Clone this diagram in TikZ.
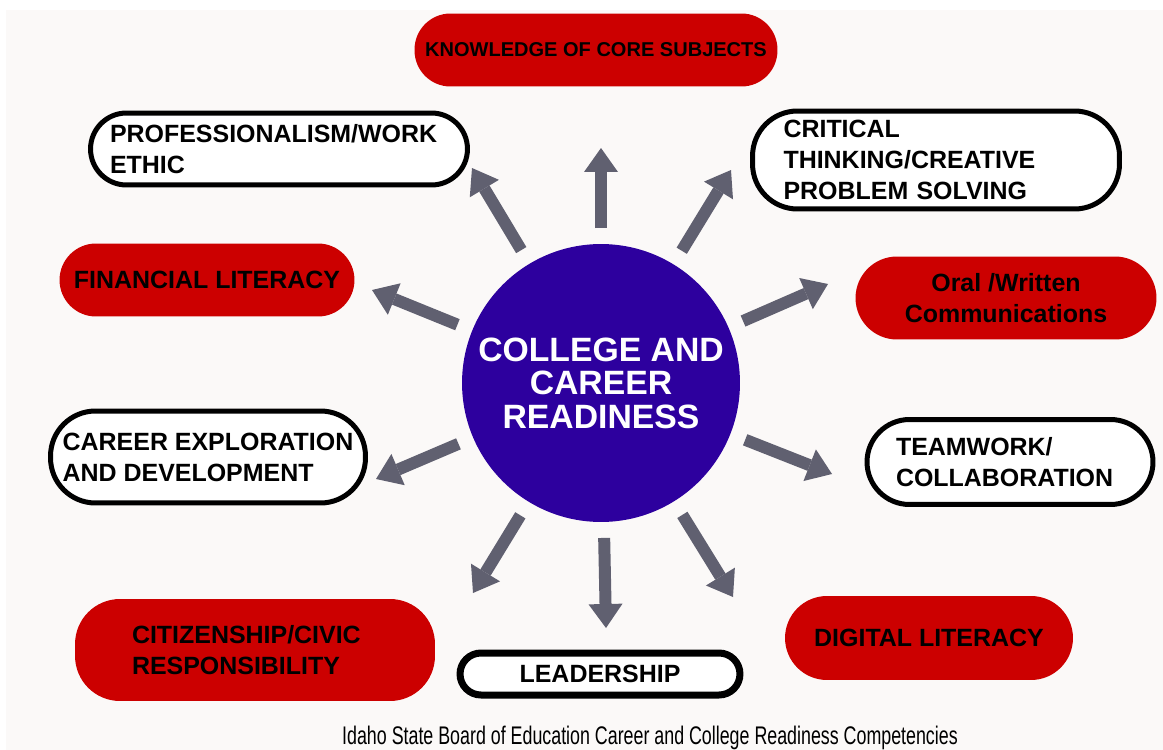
\documentclass[tikz,border=0pt]{standalone}
\usepackage{fontspec}
\setmainfont{Liberation Sans}
\newfontfamily\capfont[FakeStretch=0.7]{Liberation Sans}
\usetikzlibrary{arrows.meta}
\definecolor{pillred}{RGB}{204,0,0}
\definecolor{hubblue}{RGB}{45,0,158}
\definecolor{spokegray}{RGB}{96,96,112}
\definecolor{paper}{RGB}{251,249,248}
\tikzset{
  pilltext/.style={font=\bfseries\fontsize{14.2}{17.6}\selectfont},
  redpill/.style={pilltext, fill=pillred, rounded corners=0.72cm, inner sep=0pt},
  whitepill/.style={pilltext, draw=black, line width=0.1cm, fill=white, rounded corners=0.72cm, inner sep=0pt},
  hubdisc/.style={circle, fill=hubblue, text=white, minimum size=5.56cm, inner sep=0pt, align=center,
    font=\bfseries\fontsize{19.2}{19.1}\selectfont},
  spoke/.style={draw=spokegray, line width=0.24cm, shorten <=3.1cm,
    -{Triangle[width=0.68cm,length=0.48cm,line width=0pt]}},
}
\begin{document}
\begin{tikzpicture}[x=0.02cm,y=-0.02cm]
  % Page and paper
  \useasboundingbox (0,0) rectangle (1163,750);
  \fill[white] (0,0) rectangle (1163,750);
  \fill[paper] (6,10) rectangle (1163,750);

  % Drawing hub
  \node[hubdisc] (hub) at (601,383) {COLLEGE AND\\CAREER\\READINESS};

  % Drawing competency boxes
  \node[redpill, minimum width=7.26cm, minimum height=1.46cm,
    font=\bfseries\fontsize{11.4}{13}\selectfont] (core) at (596,50) {KNOWLEDGE OF CORE SUBJECTS};
  \node[whitepill, minimum width=7.54cm, minimum height=1.44cm, text width=6.76cm,
    align=left] (ethic) at (279,149) {PROFESSIONALISM/WORK\\ETHIC};
  \node[whitepill, minimum width=7.34cm, minimum height=1.96cm, rounded corners=0.9cm,
    text width=6.1cm, align=left] (think) at (936,160) {CRITICAL\\THINKING/CREATIVE\\PROBLEM SOLVING};
  \node[redpill, minimum width=5.9cm, minimum height=1.46cm, rounded corners=0.73cm] (money) at (207,280) {FINANCIAL LITERACY};
  \node[redpill, minimum width=6.02cm, minimum height=1.66cm, rounded corners=0.83cm,
    align=center] (speak) at (1006,298) {Oral /Written\\Communications};
  \node[whitepill, minimum width=6.3cm, minimum height=1.84cm, rounded corners=0.9cm,
    align=left] (career) at (208,457) {CAREER EXPLORATION\\AND DEVELOPMENT};
  \node[whitepill, minimum width=5.72cm, minimum height=1.7cm, rounded corners=0.85cm,
    text width=4.56cm, align=left] (team) at (1010,462) {TEAMWORK/\\COLLABORATION};
  \node[redpill, minimum width=7.2cm, minimum height=2.04cm, rounded corners=0.9cm,
    text width=4.92cm, align=left] (civic) at (255,650) {CITIZENSHIP/CIVIC\\RESPONSIBILITY};
  \node[whitepill, line width=0.14cm, minimum width=5.6cm, minimum height=0.84cm,
    rounded corners=0.42cm] (lead) at (600,674) {LEADERSHIP};
  \node[redpill, minimum width=5.76cm, minimum height=1.68cm, rounded corners=0.84cm] (digital) at (929,638) {DIGITAL LITERACY};

  % Arrow tips
  \coordinate (tipN)  at (601,148);
  \coordinate (tipNW) at (472,168);
  \coordinate (tipNE) at (731,170);
  \coordinate (tipE)  at (828,284);
  \coordinate (tipES) at (832,474);
  \coordinate (tipW)  at (372,290);
  \coordinate (tipWS) at (376,479);
  \coordinate (tipSW) at (473,593);
  \coordinate (tipS)  at (606,628);
  \coordinate (tipSE) at (733,597);

  % Drawing spokes from hub
  \foreach \t in {tipN,tipNW,tipNE,tipE,tipES,tipW,tipWS,tipSW,tipS,tipSE}
    \draw[spoke] (hub.center) -- (\t);

  % Source line
  \node[font=\capfont\fontsize{14.5}{16}\selectfont] (source) at (650,738)
    {Idaho State Board of Education Career and College Readiness Competencies};
\end{tikzpicture}
\end{document}
